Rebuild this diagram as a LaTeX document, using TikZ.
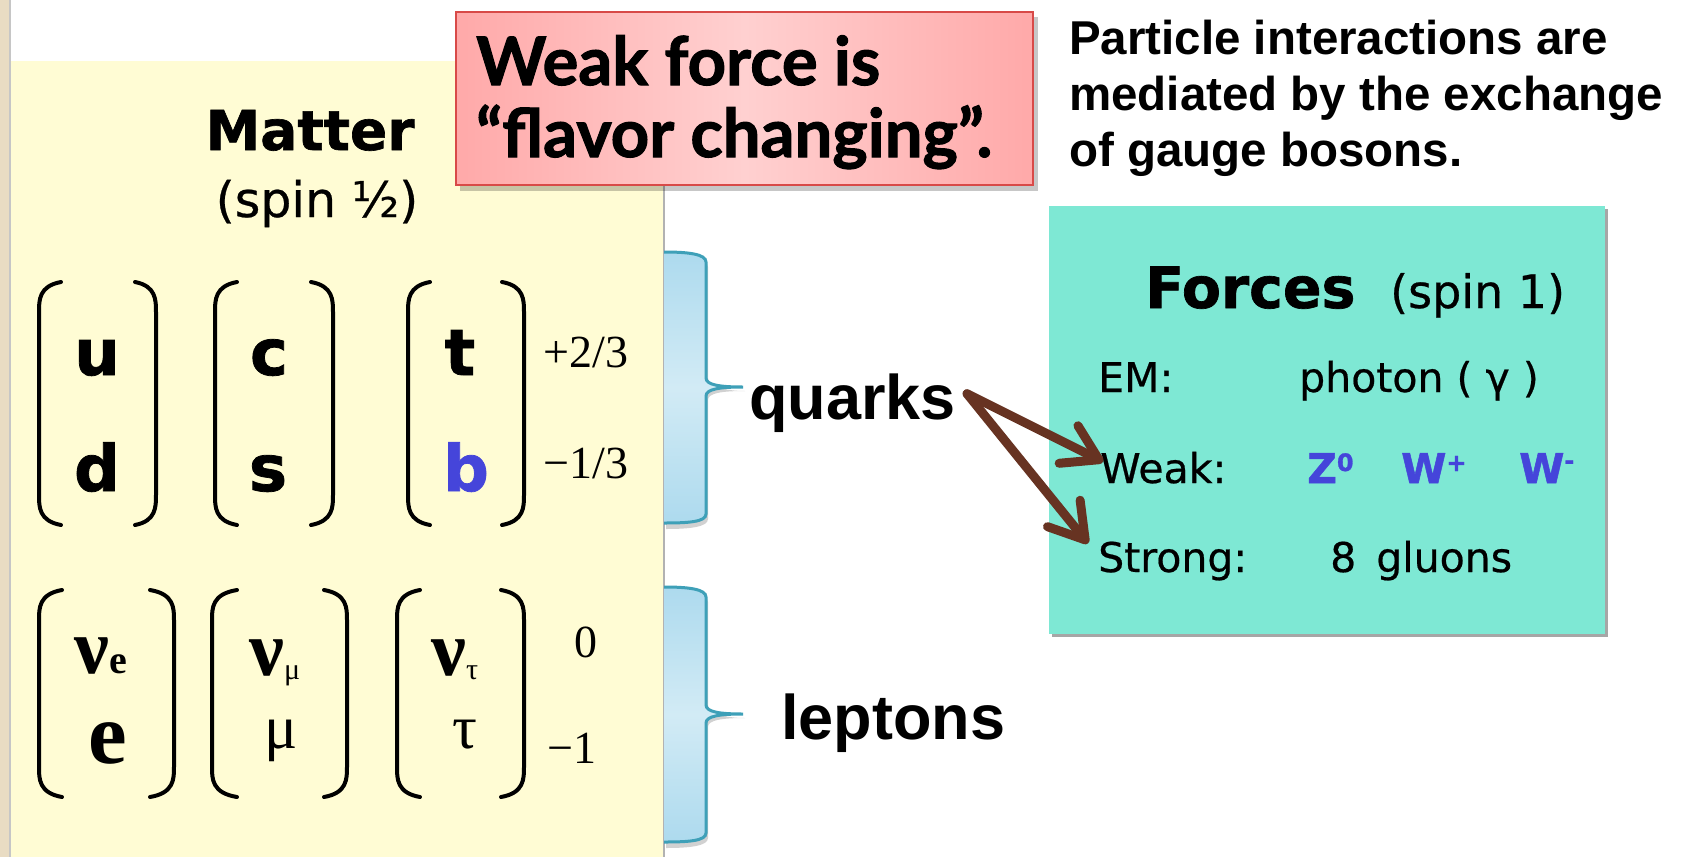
\documentclass[tikz,border=0pt]{standalone}
\usepackage{fontspec}
\setmainfont{Liberation Serif}
\newfontfamily\lsans{Liberation Sans}
\newfontfamily\dvs[FakeBold=0.5,BoldFeatures={FakeBold=1.2}]{DejaVu Sans}
\newfontfamily\gill[BoldFeatures={FakeBold=1.6}]{Lato}
\usetikzlibrary{arrows.meta,calc}
\definecolor{matteryellow}{HTML}{FFFCD4}
\definecolor{stripbeige}{HTML}{E9DCC3}
\definecolor{braceline}{HTML}{3EA0B8}
\definecolor{bracedark}{HTML}{ADDAEE}
\definecolor{bracelight}{HTML}{D2EBF5}
\definecolor{forceteal}{HTML}{7EE8D4}
\definecolor{redborder}{HTML}{D84A48}
\definecolor{redlight}{HTML}{FFD0D0}
\definecolor{reddark}{HTML}{FFA9A9}
\definecolor{arrowbrown}{HTML}{673322}
\definecolor{bosonblue}{HTML}{4545DA}
\newcommand{\MyLParen}[4]{\draw[parenline] (#2,#3) .. controls (#1,#3+4) and (#1,#3+18) .. (#1,#3+30) -- (#1,#4-30) .. controls (#1,#4-18) and (#1,#4-4) .. (#2,#4);}
\newcommand{\MyRParen}[4]{\draw[parenline] (#1,#3) .. controls (#2,#3+4) and (#2,#3+18) .. (#2,#3+30) -- (#2,#4-30) .. controls (#2,#4-18) and (#2,#4-4) .. (#1,#4);}
\tikzset{
  parenline/.style={line width=4pt, line cap=round, black},
  quarkletter/.style={font=\dvs\bfseries\fontsize{64}{64}\selectfont, anchor=base, inner sep=0pt},
  chargelabel/.style={font=\fontsize{46}{46}\selectfont, anchor=base, inner sep=0pt},
  forcetext/.style={font=\dvs\fontsize{41}{41}\selectfont, anchor=base west, inner sep=0pt},
  bosontext/.style={font=\dvs\bfseries\fontsize{41}{41}\selectfont, text=bosonblue, anchor=base west, inner sep=0pt},
  bigsans/.style={font=\lsans\bfseries\fontsize{63}{63}\selectfont, anchor=base west, inner sep=0pt},
  braceshape/.style={top color=bracedark, bottom color=bracedark, middle color=bracelight},
  braceedge/.style={draw=braceline, line width=3pt},
  flavorarrow/.style={draw=arrowbrown, line width=9pt, line cap=round, -{Straight Barb[length=34pt, width=42pt, line cap=round, line join=round]}},
}
\begin{document}
\begin{tikzpicture}[x=1pt, y=-1pt]
\useasboundingbox (0,0) rectangle (1684,857);
\fill[white] (0,0) rectangle (1684,857);
% left strip
\fill[stripbeige] (0,0) rectangle (9,857);
\fill[gray!45] (9,0) rectangle (11,857);
% matter box
\fill[matteryellow] (11,61) rectangle (664,857);
\draw[gray!60, line width=1.5pt] (664,61) -- (664,857);
% braces
\foreach \yt/\ym/\yb in {252/387/523, 587/714/842}{
  \fill[black, opacity=0.18] ($(664,\yt)+(2,5)$) .. controls (690,\yt+5) and (708,\yt+7) .. (708,\yt+15) -- (708,\ym-9) .. controls (708,\ym-2) and (722,\ym+4) .. (745,\ym+4) .. controls (722,\ym+4) and (708,\ym+6) .. (708,\ym+13) -- (708,\yb-4) .. controls (708,\yb+4) and (690,\yb+6) .. (666,\yb+6) -- cycle;
  \shade[braceshape] (664,\yt) .. controls (688,\yt) and (706,\yt+2) .. (706,\yt+10) -- (706,\ym-9) .. controls (706,\ym-2) and (720,\ym) .. (743,\ym) .. controls (720,\ym) and (706,\ym+2) .. (706,\ym+9) -- (706,\yb-9) .. controls (706,\yb-1) and (688,\yb) .. (664,\yb) -- cycle;
  \draw[braceedge] (664,\yt) .. controls (688,\yt) and (706,\yt+2) .. (706,\yt+10) -- (706,\ym-9) .. controls (706,\ym-2) and (720,\ym) .. (743,\ym) .. controls (720,\ym) and (706,\ym+2) .. (706,\ym+9) -- (706,\yb-9) .. controls (706,\yb-1) and (688,\yb) .. (664,\yb);
}
% Matter title
\node[font=\dvs\bfseries\fontsize{55}{55}\selectfont, anchor=base, inner sep=0pt] (matter) at (310,150) {Matter};
\node[font=\dvs\fontsize{49}{49}\selectfont, anchor=base, inner sep=0pt] (spinhalf) at (317,217) {(spin ½)};
% quark parens
\MyLParen{39}{61}{282}{525}
\MyRParen{135}{156}{282}{525}
\MyLParen{215}{237}{282}{525}
\MyRParen{311}{333}{282}{525}
\MyLParen{408}{430}{282}{525}
\MyRParen{502}{524}{282}{525}
% quark letters
\node[quarkletter] (u) at (97,375) {u};
\node[quarkletter] (d) at (97,491) {d};
\node[quarkletter] (c) at (269,375) {c};
\node[quarkletter] (s) at (268,491) {s};
\node[quarkletter] (t) at (460,375) {t};
\node[quarkletter, text=bosonblue] (b) at (466,491) {b};
\node[chargelabel] (qup) at (586,367) {+2/3};
\node[chargelabel] (qdown) at (586,478) {−1/3};
% lepton parens
\MyLParen{39}{62}{590}{797}
\MyRParen{150}{174}{590}{797}
\MyLParen{212}{237}{590}{797}
\MyRParen{324}{347}{590}{797}
\MyLParen{397}{420}{590}{797}
\MyRParen{501}{524}{590}{797}
% leptons
\node[font=\bfseries\fontsize{78}{78}\selectfont, anchor=base west, inner sep=0pt] (nue) at (74,673) {ν\raisebox{0pt}{\fontsize{40}{40}\selectfont e}};
\node[font=\bfseries\fontsize{78}{78}\selectfont, anchor=base west, inner sep=0pt] (numu) at (249,675) {ν\raisebox{-4pt}{\mdseries\fontsize{30}{30}\selectfont μ}};
\node[font=\bfseries\fontsize{78}{78}\selectfont, anchor=base west, inner sep=0pt] (nutau) at (431,675) {ν\raisebox{-4pt}{\mdseries\fontsize{30}{30}\selectfont τ}};
\node[font=\bfseries\fontsize{87}{87}\selectfont, anchor=base, inner sep=0pt] (e) at (108,763) {e};
\node[font=\fontsize{62}{62}\selectfont, anchor=base, inner sep=0pt] (mu) at (281,748) {μ};
\node[font=\fontsize{62}{62}\selectfont, anchor=base, inner sep=0pt] (tau) at (465,748) {τ};
\node[chargelabel] (lup) at (586,657) {0};
\node[chargelabel] (ldown) at (572,763) {−1};
% labels
\node[bigsans] (quarks) at (749,419) {quarks};
\node[bigsans] (leptons) at (781,739) {leptons};
% red box
\fill[black, opacity=0.22] (460,17) rectangle (1038,191);
\shade[left color=reddark, right color=reddark, middle color=redlight] (456,12) rectangle (1033,185);
\draw[redborder, line width=2.5pt] (456,12) rectangle (1033,185);
\node[font=\gill\bfseries\fontsize{67}{67}\selectfont, anchor=base west, inner sep=0pt] (weakflavor1) at (476,85) {Weak force is};
\node[font=\gill\bfseries\fontsize{67}{67}\selectfont, anchor=base west, inner sep=0pt] (weakflavor2) at (476,157) {“flavor changing”.};
% particle text
\node[font=\lsans\bfseries\fontsize{47.5}{56}\selectfont, anchor=base west, inner sep=0pt] (part1) at (1069,54) {Particle interactions are};
\node[font=\lsans\bfseries\fontsize{47.5}{56}\selectfont, anchor=base west, inner sep=0pt] (part2) at (1069,110) {mediated by the exchange};
\node[font=\lsans\bfseries\fontsize{47.5}{56}\selectfont, anchor=base west, inner sep=0pt] (part3) at (1069,166) {of gauge bosons.};
% forces box
\fill[gray!70] (1052,209) rectangle (1608,637);
\fill[forceteal] (1049,206) rectangle (1605,634);
\node[font=\dvs\bfseries\fontsize{57}{57}\selectfont, anchor=base west, inner sep=0pt] (forces) at (1145,308) {Forces};
\node[forcetext, font=\dvs\fontsize{46}{46}\selectfont] (spinone) at (1390,308) {(spin 1)};
\node[forcetext] (em) at (1098,392) {EM:};
\node[forcetext] (photon) at (1299,392) {photon ( γ )};
\node[forcetext] (weak) at (1100,483) {Weak:};
\node[bosontext] (z0) at (1307,483) {Z\raisebox{12pt}{\fontsize{24}{24}\selectfont 0}};
\node[bosontext] (wplus) at (1401,483) {W\raisebox{12pt}{\fontsize{24}{24}\selectfont +}};
\node[bosontext] (wminus) at (1519,483) {W\raisebox{14pt}{\fontsize{24}{24}\selectfont -}};
\node[forcetext] (strong) at (1098,572) {Strong:};
\node[forcetext] (gluons) at (1330,572) {8\hspace{20pt}gluons};
% arrows
\coordinate (qstart) at ($(quarks.east)+(11,-9)$);
\draw[flavorarrow] (qstart) -- ($(weak.west)+(3,-6)$);
\draw[flavorarrow] (qstart) -- ($(strong.north west)+(-10,2)$);
\end{tikzpicture}
\end{document}
